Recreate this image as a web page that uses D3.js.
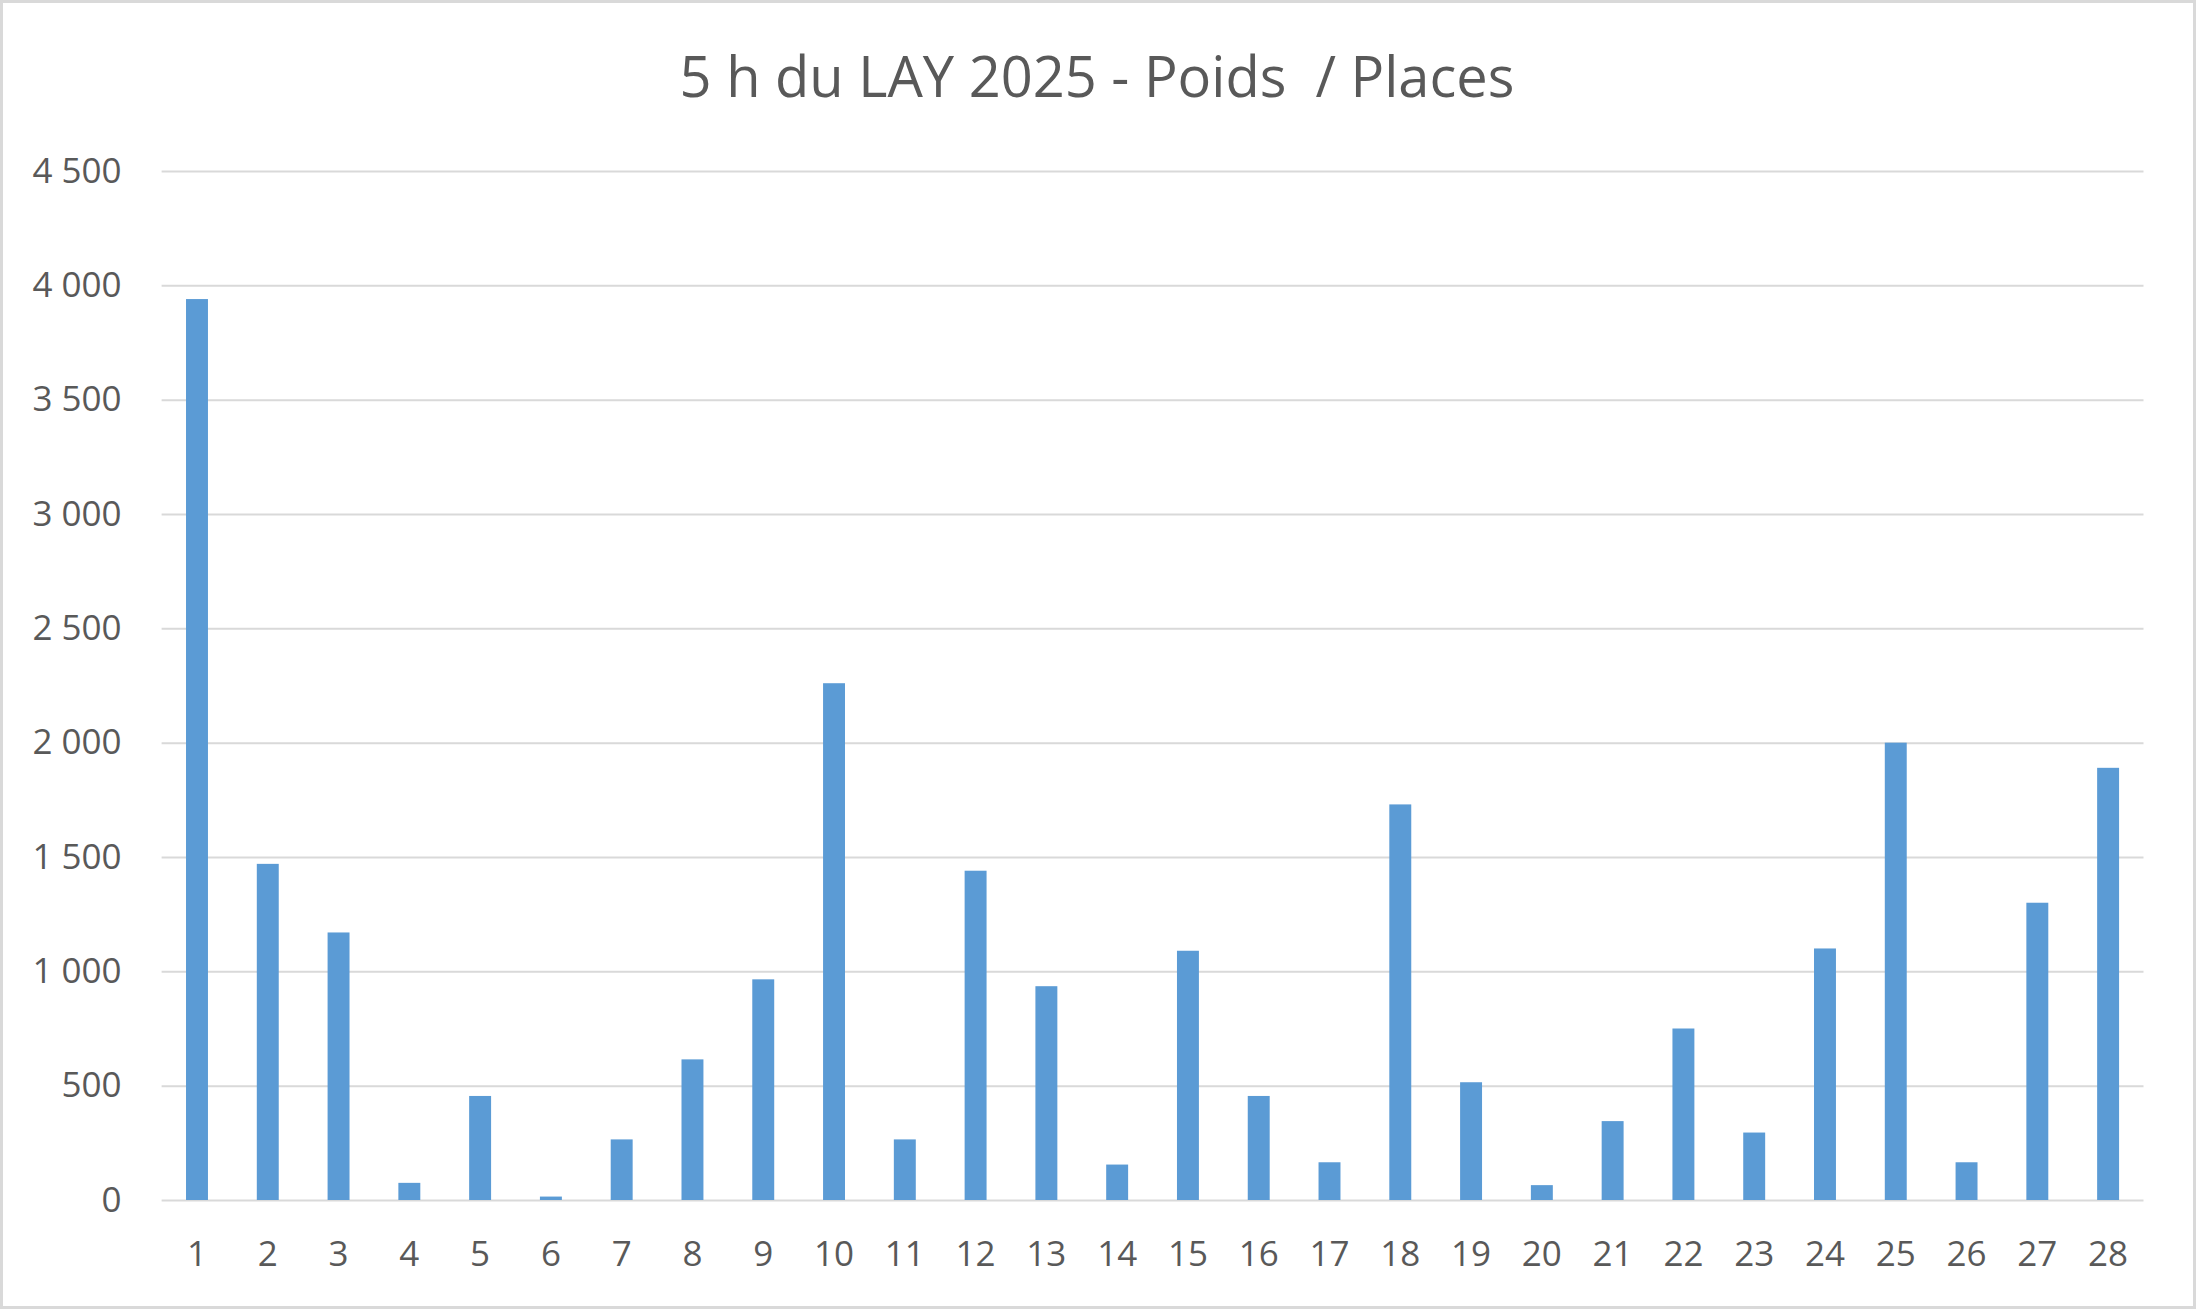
<!DOCTYPE html>
<html><head><meta charset="utf-8">
<script src="https://cdn.jsdelivr.net/npm/d3@7"></script>
<style>html,body{margin:0;padding:0;background:#fff;}svg{display:block;}</style>
</head><body>
<script>
const title = "5 h du LAY 2025 - Poids  / Places";
const categories = ["1","2","3","4","5","6","7","8","9","10","11","12","13","14","15","16","17","18","19","20","21","22","23","24","25","26","27","28"];
const values = [3940,1470,1170,75,455,15,265,615,965,2260,265,1440,935,155,1090,455,165,1730,515,65,345,750,295,1100,2000,165,1300,1890];
const yTicks = [0,500,1000,1500,2000,2500,3000,3500,4000,4500];

const W = 2196, H = 1309;
const m = {left:161.6, right:W-2143.5, top:171, bottom:H-1200};
const svg = d3.select("body").append("svg").attr("width",W).attr("height",H);
svg.append("rect").attr("x",1.5).attr("y",1.5).attr("width",W-3).attr("height",H-3)
  .attr("fill","#fff").attr("stroke","#d9d9d9").attr("stroke-width",3);

const iw = W-m.left-m.right, ih = H-m.top-m.bottom;
const g = svg.append("g").attr("transform",`translate(${m.left},${m.top})`);
const x = d3.scaleBand().domain(categories).range([0,iw]).paddingInner(0.69).paddingOuter(0.345);
const y = d3.scaleLinear().domain([0,4500]).range([ih,0]);
const loc = d3.formatLocale({decimal:",",thousands:" ",grouping:[3],currency:["","€"]});
const fmt = loc.format(",");

const ya = g.append("g").call(d3.axisLeft(y).tickValues(yTicks).tickFormat(fmt).tickSize(-iw).tickPadding(40));
ya.select(".domain").remove();
ya.selectAll("line").attr("stroke","#d9d9d9").attr("stroke-width",2);
ya.selectAll("text").attr("fill","#595959").style("font-family","'Open Sans'").style("font-size","35px");

g.selectAll("rect.bar").data(values).join("rect").attr("class","bar")
  .attr("x",(d,i)=>x(categories[i])).attr("width",x.bandwidth())
  .attr("y",d=>y(d)).attr("height",d=>y(0)-y(d)).attr("fill","#5b9bd5");

const xa = g.append("g").attr("transform",`translate(0,${ih})`).call(d3.axisBottom(x).tickSize(0).tickPadding(41));
xa.select(".domain").remove();
xa.selectAll("text").attr("fill","#595959").style("font-family","'Open Sans'").style("font-size","35px");

svg.append("text").attr("x",1097).attr("y",97).attr("text-anchor","middle")
  .attr("fill","#595959").style("font-family","'Open Sans'").style("font-size","56px")
  .style("white-space","pre").text(title);
</script>
</body></html>
